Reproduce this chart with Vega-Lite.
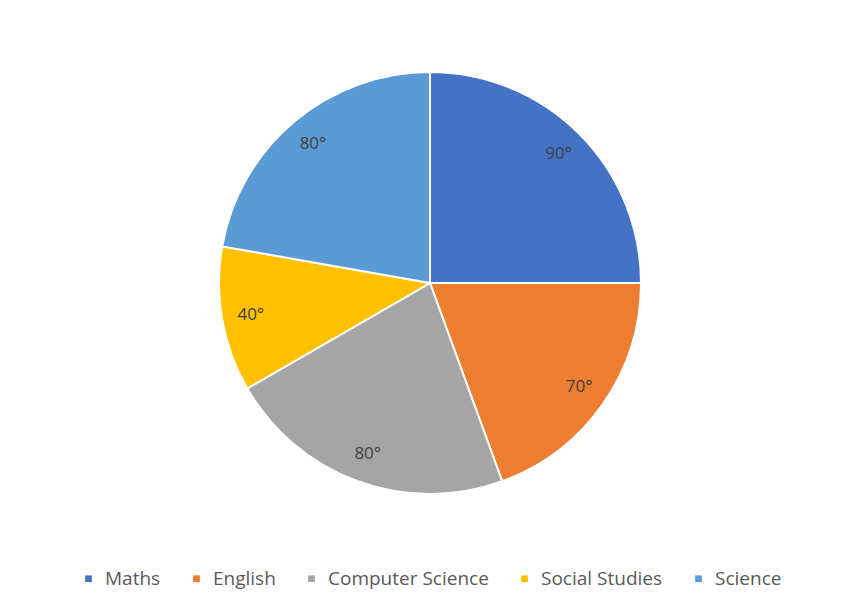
{
  "$schema": "https://vega.github.io/schema/vega-lite/v6.json",
  "width": 828,
  "height": 550,
  "autosize": {"type": "none"},
  "padding": {"left": 16, "top": 8, "right": 0, "bottom": 58},
  "background": "white",
  "config": {"view": {"stroke": null}, "font": "Open Sans"},
  "data": {
    "values": [
      {"subject": "Maths", "degrees": 90, "label": "90°", "i": 1},
      {"subject": "English", "degrees": 70, "label": "70°", "i": 2},
      {"subject": "Computer Science", "degrees": 80, "label": "80°", "i": 3},
      {"subject": "Social Studies", "degrees": 40, "label": "40°", "i": 4},
      {"subject": "Science", "degrees": 80, "label": "80°", "i": 5}
    ]
  },
  "encoding": {
    "theta": {"field": "degrees", "type": "quantitative", "stack": true},
    "order": {"field": "i", "type": "quantitative"},
    "color": {
      "field": "subject",
      "type": "nominal",
      "scale": {
        "domain": ["Maths", "English", "Computer Science", "Social Studies", "Science"],
        "range": ["#4472C4", "#ED7D31", "#A5A5A5", "#FFC000", "#5B9BD5"]
      },
      "legend": {
        "title": null,
        "orient": "none",
        "direction": "horizontal",
        "legendX": 63,
        "legendY": 561,
        "symbolType": "square",
        "symbolSize": 45,
        "symbolStrokeWidth": 0,
        "labelFontSize": 19,
        "labelLimit": 400,
        "labelColor": "#595959",
        "labelFont": "Open Sans",
        "columnPadding": 26,
        "labelOffset": 7
      }
    }
  },
  "layer": [
    {
      "mark": {"type": "arc", "outerRadius": 211, "stroke": "white", "strokeWidth": 2}
    },
    {
      "mark": {"type": "text", "radius": 182, "fontSize": 17, "color": "#404040", "font": "Open Sans"},
      "encoding": {
        "text": {"field": "label", "type": "nominal"},
        "color": {"value": "#404040"}
      }
    }
  ]
}
